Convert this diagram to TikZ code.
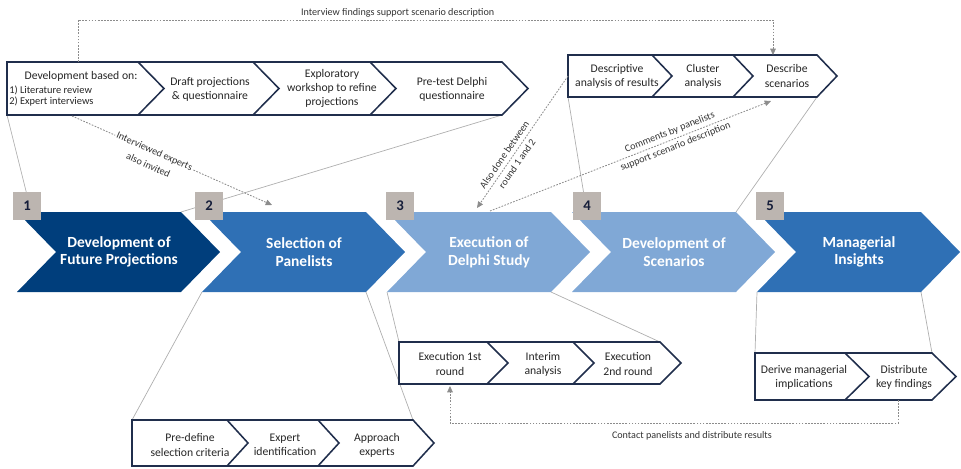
\documentclass[tikz,border=0pt]{standalone}
\usepackage{fontspec}
\setmainfont{Carlito}
\usetikzlibrary{arrows.meta}

\definecolor{navy}{RGB}{0,62,124}
\definecolor{midblue}{RGB}{47,112,181}
\definecolor{lightblue}{RGB}{128,168,214}
\definecolor{numgray}{RGB}{188,181,176}
\definecolor{numtext}{RGB}{22,30,58}
\definecolor{stripline}{RGB}{32,46,76}
\definecolor{thingray}{RGB}{175,175,175}
\definecolor{dotgray}{RGB}{140,140,140}

\tikzset{phase/.style = {text=white, align=center, font=\fontsize{11}{12.5}\selectfont\bfseries},
         num/.style = {fill=numgray, text=numtext, minimum size=19.8pt, inner sep=0pt,
                       font=\fontsize{10.5}{12}\selectfont\bfseries},
         strip/.style = {draw=stripline, line width=1.1pt, fill=white, line join=miter},
         stepbox/.style = {align=center, text=black!85, inner sep=0pt, font=\fontsize{8.3}{10}\selectfont},
         funnel/.style = {draw=thingray, line width=0.5pt},
         hint/.style = {draw=dotgray, line width=0.6pt, dash pattern=on 1.2pt off 1pt,
                        -{Triangle[length=4.5pt,width=4pt]}},
         note/.style = {align=center, text=black!80, inner sep=1pt, font=\fontsize{7.2}{11}\selectfont}
        }

\begin{document}
\begin{tikzpicture}[x=0.025cm, y=-0.025cm]
\useasboundingbox (0,0) rectangle (961,468);

\coordinate (tl-sw) at (7,115);
\coordinate (tl-se) at (502,115);
\coordinate (tl-n) at (78,62);
\coordinate (tl-s) at (72,116);
\coordinate (tr-sw) at (568,97);
\coordinate (tr-se) at (817,97);
\coordinate (tr-w) at (568,76);
\coordinate (tr-n) at (773,55);
\coordinate (tr-in) at (771,101);
\coordinate (bl-nw) at (132,420);
\coordinate (bl-ne) at (413,420);
\coordinate (bm-nw) at (399,342);
\coordinate (bm-ne) at (660,342);
\coordinate (bm-s) at (450,386);
\coordinate (br-nw) at (755,353);
\coordinate (br-ne) at (932,353);
\coordinate (br-s) at (898,400);
\coordinate (ch1-top) at (27,195);
\coordinate (ch1-ne) at (181,212);
\coordinate (ch2-sw) at (202,292);
\coordinate (ch2-se) at (366,292);
\coordinate (ch2-in) at (272,205);
\coordinate (ch3-sw) at (387,292);
\coordinate (ch3-se) at (551,292);
\coordinate (ch3-in) at (477,208);
\coordinate (ch3-out) at (490,211);
\coordinate (ch4-top) at (584,195);
\coordinate (ch4-ne) at (736,212);
\coordinate (ch5-sw) at (757,292);
\coordinate (ch5-se) at (921,292);

\draw[funnel] (tl-sw) -- (ch1-top);
\draw[funnel] (tl-se) -- (ch1-ne);
\draw[funnel] (ch2-sw) -- (bl-nw);
\draw[funnel] (ch2-se) -- (bl-ne);
\draw[funnel] (ch3-sw) -- (bm-nw);
\draw[funnel] (ch3-se) -- (bm-ne);
\draw[funnel] (tr-sw) -- (ch4-top);
\draw[funnel] (tr-se) -- (ch4-ne);
\draw[funnel] (ch5-sw) -- (br-nw);
\draw[funnel] (ch5-se) -- (br-ne);

\foreach \x/\col in {17/navy, 202/midblue, 387/lightblue, 572/lightblue, 757/midblue}
  \fill[\col] (\x,212) -- ++(164,0) -- ++(39,40) -- ++(-39,40) -- ++(-164,0) -- ++(39,-40) -- cycle;

\node[phase] (ph1) at (119,252) {Development of\\Future Projections};
\node[phase] (ph2) at (304,252) {Selection of\\Panelists};
\node[phase] (ph3) at (489,252) {Execution of\\Delphi Study};
\node[phase] (ph4) at (674,252) {Development of\\Scenarios};
\node[phase] (ph5) at (859,252) {Managerial\\Insights};

\node[num] (n1) at (27,206) {1};
\node[num] (n2) at (209,206) {2};
\node[num] (n3) at (400,206) {3};
\node[num] (n4) at (587,206) {4};
\node[num] (n5) at (770,206) {5};

\draw[strip] (7,62) -- (502,62) -- (528,88.5) -- (502,115) -- (7,115) -- cycle
  (138,62) -- (164,88.5) -- (138,115) (253,62) -- (279,88.5) -- (253,115) (370,62) -- (396,88.5) -- (370,115);
\draw[strip] (568,55) -- (817,55) -- (837,76) -- (817,97) -- (568,97) -- cycle
  (652,55) -- (672,76) -- (652,97) (733,55) -- (753,76) -- (733,97);
\draw[strip] (132,420) -- (413,420) -- (434,443) -- (413,466) -- (132,466) -- cycle
  (227,420) -- (248,443) -- (227,466) (318,420) -- (339,443) -- (318,466);
\draw[strip] (399,342) -- (660,342) -- (681,363) -- (660,384) -- (399,384) -- cycle
  (487,342) -- (508,363) -- (487,384) (573,342) -- (594,363) -- (573,384);
\draw[strip] (755,353) -- (932,353) -- (956,376.5) -- (932,400) -- (755,400) -- cycle
  (845,353) -- (869,376.5) -- (845,400);

\node[stepbox] (dev) at (81,76) {Development based on:};
\node[stepbox, align=left, anchor=west, font=\fontsize{7.4}{8}\selectfont] (devlist) at (9,96) {1) Literature review\\2) Expert interviews};
\node[stepbox] (draft) at (210,89) {Draft projections\\\& questionnaire};
\node[stepbox] (wshop) at (332,88.5) {Exploratory\\workshop to refine\\projections};
\node[stepbox] (ptest) at (452,89) {Pre-test Delphi\\questionnaire};
\node[stepbox] (descr) at (617,76) {Descriptive\\analysis of results};
\node[stepbox] (clust) at (703,76) {Cluster\\analysis};
\node[stepbox] (scen) at (787,76) {Describe\\scenarios};
\node[stepbox] (crit) at (190,445) {Pre-define\\selection criteria};
\node[stepbox] (ident) at (285,445) {Expert\\identification};
\node[stepbox] (appr) at (377,445) {Approach\\experts};
\node[stepbox] (rnd1) at (450,364) {Execution 1st\\round};
\node[stepbox] (inter) at (543,364) {Interim\\analysis};
\node[stepbox] (rnd2) at (628,364) {Execution\\2nd round};
\node[stepbox] (impl) at (804,377) {Derive managerial\\implications};
\node[stepbox] (distr) at (904,377) {Distribute\\key findings};

\draw[hint] (tl-n) -- ++(0,-42) -| node[note, pos=0.23, above=1pt] {Interview findings support scenario description} (tr-n);
\draw[hint] (tl-s) -- node[note, sloped, pos=0.41, below=-5pt, fill=white] {Interviewed experts\\also invited} (ch2-in);
\draw[hint] (tr-w) -- node[note, sloped, pos=0.63] {Also done between\\round 1 and 2} (ch3-in);
\draw[hint] (ch3-out) -- node[note, sloped, pos=0.65] {Comments by panelists\\support scenario description} (tr-in);
\draw[hint] (br-s) -- ++(0,23) -| node[note, pos=0.23, below=5pt] {Contact panelists and distribute results} (bm-s);
\end{tikzpicture}
\end{document}
